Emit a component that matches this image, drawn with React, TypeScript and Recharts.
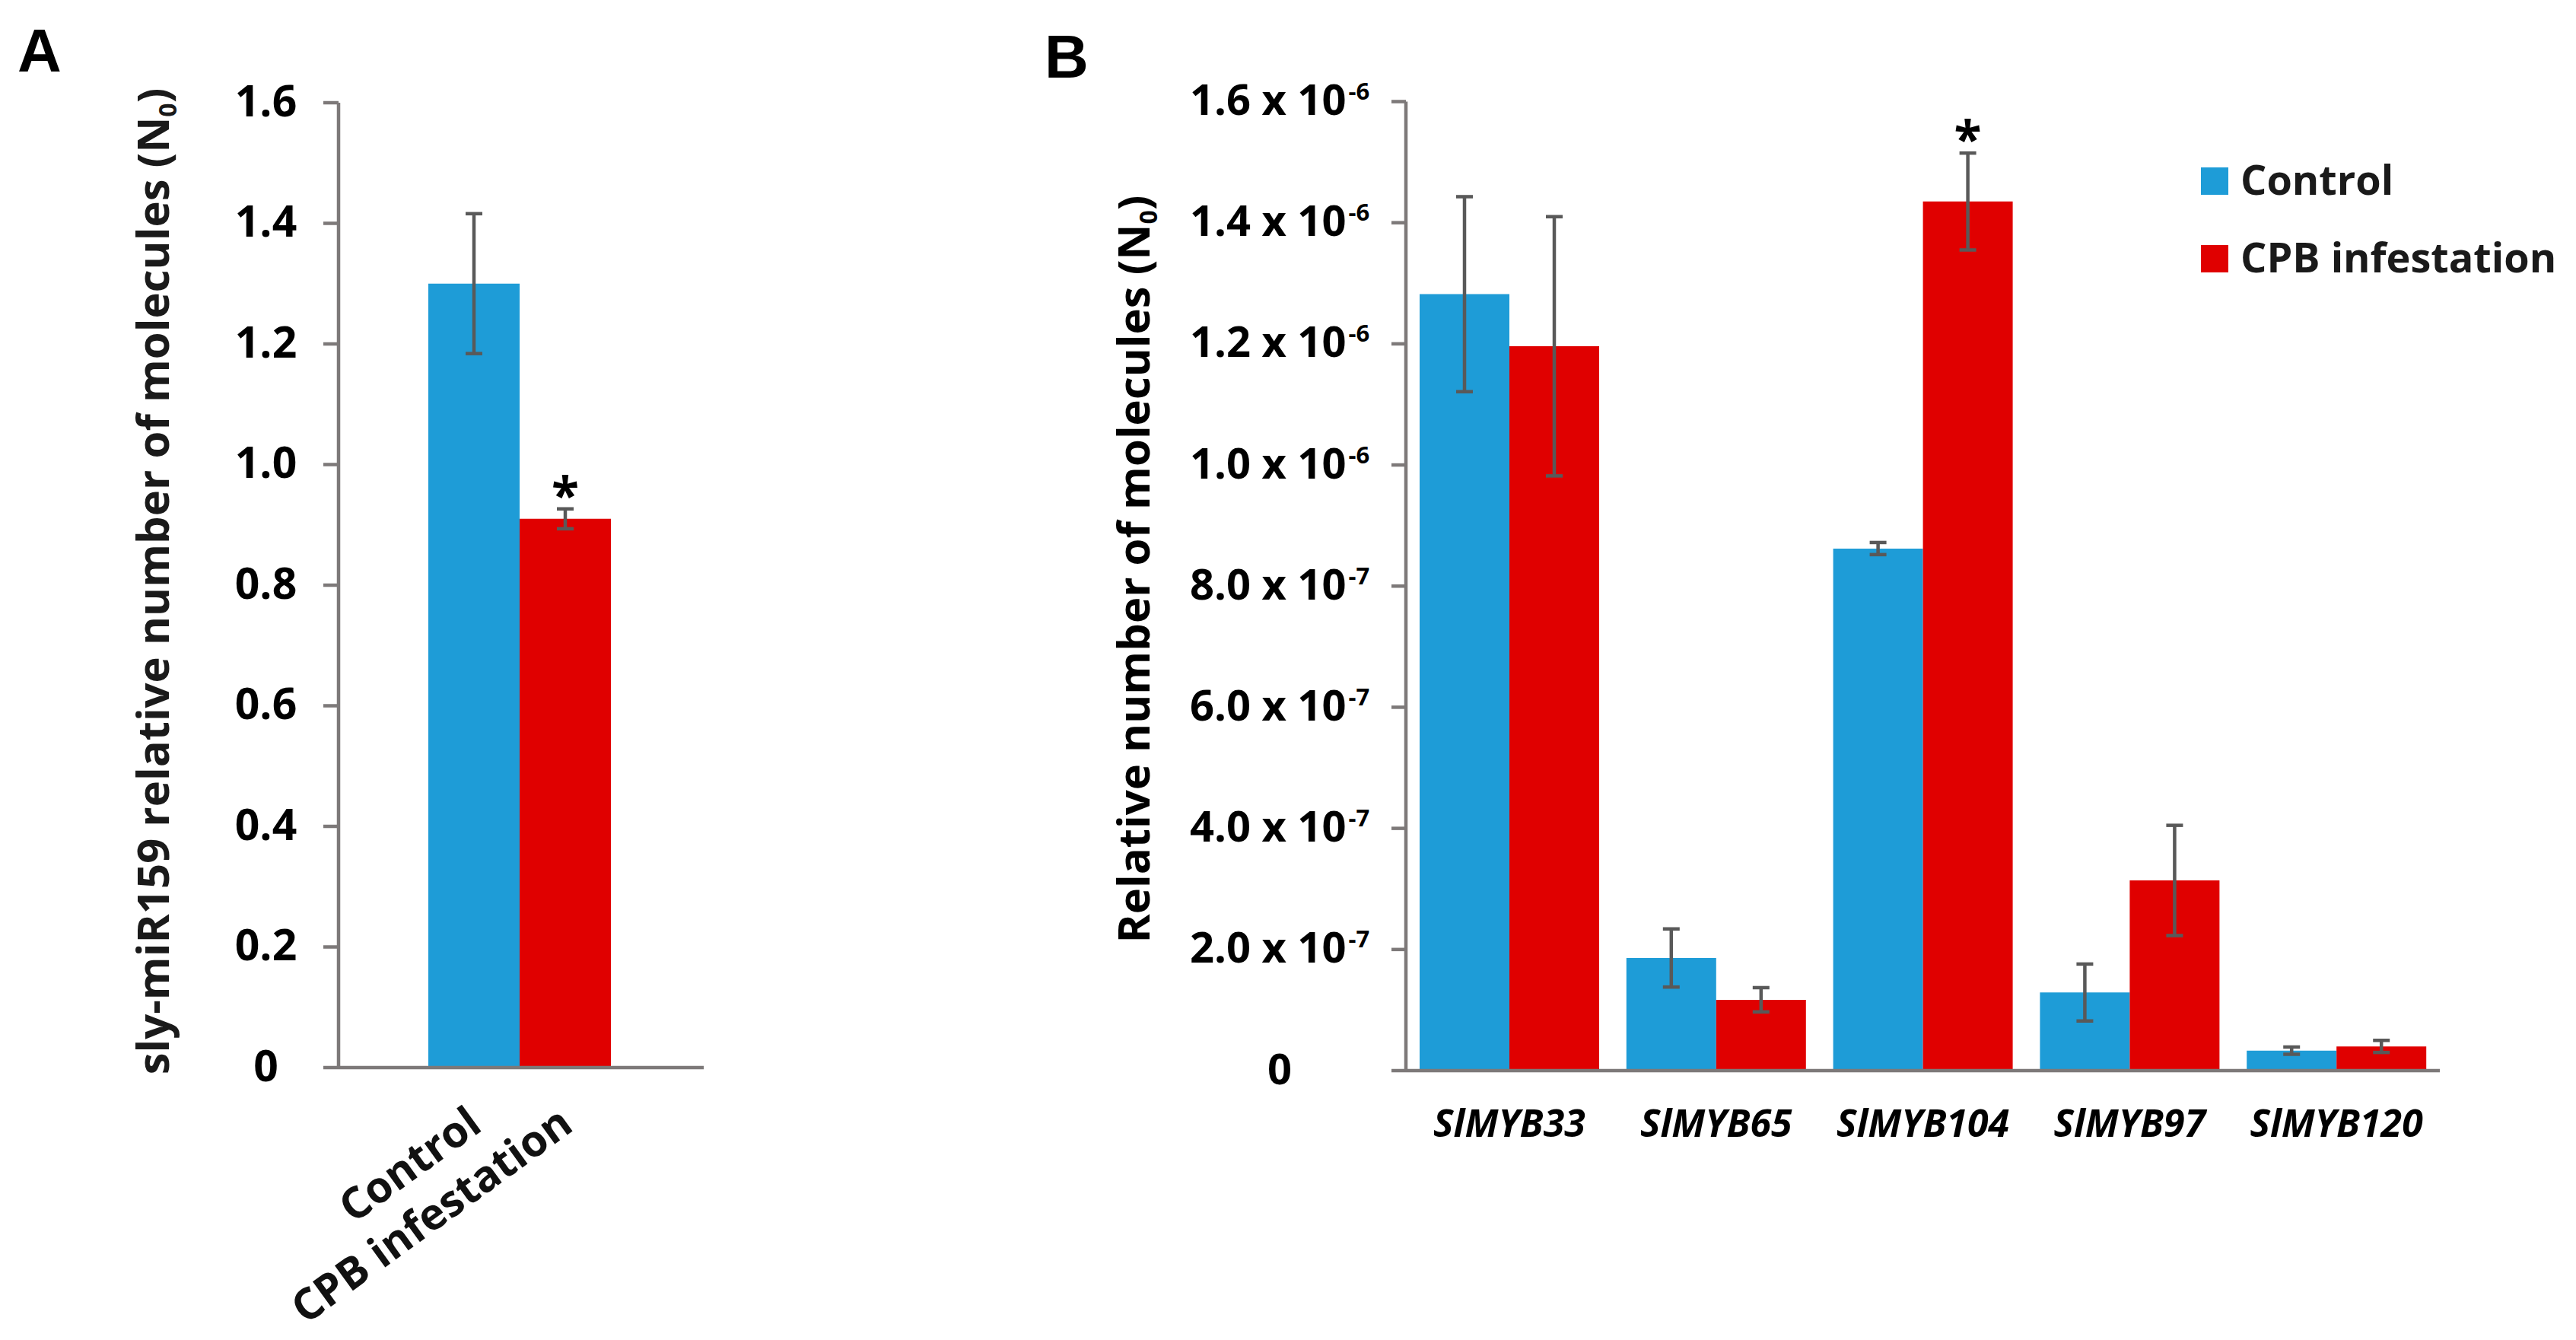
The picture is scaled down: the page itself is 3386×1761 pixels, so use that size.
import React from 'react';
import { BarChart, Bar, XAxis, YAxis, ErrorBar, Cell, LabelList, Legend } from 'recharts';

// ---------- Panel A data ----------
const catsA = ['Control', 'CPB infestation'];
const valuesA = [1.3, 0.91];
const errorsA = [0.116, 0.0165];
const starsA = [false, true];
const yTicksA = [0, 0.2, 0.4, 0.6, 0.8, 1.0, 1.2, 1.4, 1.6];
const yTickLabelsA = ['0', '0.2', '0.4', '0.6', '0.8', '1.0', '1.2', '1.4', '1.6'];

// ---------- Panel B data ----------
const genesB = ['SlMYB33', 'SlMYB65', 'SlMYB104', 'SlMYB97', 'SlMYB120'];
const controlB = [1.282e-6, 1.86e-7, 8.62e-7, 1.29e-7, 3.3e-8];
const controlErrB = [1.61e-7, 4.8e-8, 1.0e-8, 4.7e-8, 6e-9];
const cpbB = [1.196e-6, 1.17e-7, 1.435e-6, 3.14e-7, 4.0e-8];
const cpbErrB = [2.14e-7, 2.0e-8, 8.0e-8, 9.1e-8, 1.0e-8];
const starsControlB = [false, false, false, false, false];
const starsCpbB = [false, false, true, false, false];
const yTicksB = [0, 2e-7, 4e-7, 6e-7, 8e-7, 1e-6, 1.2e-6, 1.4e-6, 1.6e-6];
const yTickMantissaB = ['0', '2.0', '4.0', '6.0', '8.0', '1.0', '1.2', '1.4', '1.6'];
const yTickExponentB = ['', '-7', '-7', '-7', '-7', '-6', '-6', '-6', '-6'];
const seriesNamesB = ['Control', 'CPB infestation'];

const BLUE = '#1E9CD7';
const RED = '#E00000';
const colorsA = [BLUE, RED];
const AX = '#7D7979';
const ERR = '#595959';
const FONT = "'Open Sans', 'Noto Sans', sans-serif";

const dataA = catsA.map((c, i) => ({ name: c, value: valuesA[i], err: errorsA[i] }));
const dataB = genesB.map((g, i) => ({
  gene: g,
  control: controlB[i],
  controlErr: controlErrB[i],
  cpb: cpbB[i],
  cpbErr: cpbErrB[i],
}));

const makeStar = (stars: boolean[], errs: number[]) => (props: any) => {
  const vb = props.viewBox || props;
  const i = props.index;
  if (i == null || !stars[i]) return null;
  const val = Number(props.value);
  const errTop = vb.y - (errs[i] / val) * vb.height;
  return (
    <text x={vb.x + vb.width / 2} y={errTop + 6} textAnchor="middle" fontFamily={FONT} fontSize={66} fontWeight={700} fill="#000">
      *
    </text>
  );
};

const YTickA = (props: any) => {
  const { x, y, payload } = props;
  const idx = yTicksA.indexOf(payload.value);
  return (
    <text x={x - 75.5} y={y + 17.5} textAnchor="middle" fontFamily={FONT} fontSize={57} fontWeight={700} fill="#000">
      {yTickLabelsA[idx]}
    </text>
  );
};

const XTickA = (props: any) => {
  const { x, y, payload } = props;
  const ax = x + 13;
  return (
    <text x={ax} y={y} transform={`rotate(-36, ${ax}, ${y})`} textAnchor="end" fontFamily={FONT} fontSize={57} fontWeight={700} fill="#111">
      {payload.value}
    </text>
  );
};

const YTickB = (props: any) => {
  const { x, y, payload } = props;
  let idx = yTicksB.findIndex((t) => Math.abs(t - payload.value) < 1e-12);
  if (idx < 0) idx = 0;
  const exp = yTickExponentB[idx];
  return (
    <text x={x - 147} y={y + 17.5} textAnchor="middle" fontFamily={FONT} fontSize={56} fontWeight={700} fill="#000">
      {exp ? `${yTickMantissaB[idx]} x 10` : yTickMantissaB[idx]}
      {exp ? (
        <tspan dx={3} dy={-20} fontSize={31}>
          {exp}
        </tspan>
      ) : null}
    </text>
  );
};

const XTickB = (props: any) => {
  const { x, y, payload } = props;
  return (
    <text x={x} y={y} textAnchor="middle" fontFamily={FONT} fontSize={50} fontStyle="italic" fontWeight={700} fill="#000">
      {payload.value}
    </text>
  );
};

const LegendB = () => (
  <svg width={480} height={180} style={{ display: 'block', overflow: 'visible' }}>
    {seriesNamesB.map((n, i) => (
      <g key={n}>
        <rect x={0} y={20 + i * 102} width={36} height={36} fill={i === 0 ? BLUE : RED} />
        <text x={52} y={56 + i * 102} fontFamily={FONT} fontSize={54} fontWeight={700} fill="#1a1a1a">
          {n}
        </text>
      </g>
    ))}
  </svg>
);

export default function App() {
  const B_LEFT = 1400;
  return (
    <div style={{ position: 'absolute', left: 0, top: 0, width: 3386, height: 1761, background: '#fff', overflow: 'hidden' }}>
      <div style={{ position: 'absolute', left: 0, top: 0 }}>
        <BarChart
          width={1000}
          height={1761}
          data={dataA}
          margin={{ top: 135, right: 75, bottom: 158, left: 345 }}
          barCategoryGap={0}
          barGap={0}
        >
          <XAxis
            dataKey="name"
            type="category"
            interval={0}
            height={200}
            padding={{ left: 118, right: 122 }}
            tickLine={false}
            tickSize={0}
            tickMargin={81}
            axisLine={{ stroke: AX, strokeWidth: 4.5 }}
            tick={<XTickA />}
          />
          <YAxis
            type="number"
            domain={[0, 1.6]}
            ticks={yTicksA}
            interval={0}
            width={100}
            tickSize={20}
            tickMargin={0}
            tickLine={{ stroke: AX, strokeWidth: 4.5 }}
            axisLine={{ stroke: AX, strokeWidth: 4.5 }}
            tick={<YTickA />}
          />
          <Bar dataKey="value" isAnimationActive={false}>
            {dataA.map((d, i) => (
              <Cell key={d.name} fill={colorsA[i]} />
            ))}
            <ErrorBar dataKey="err" width={11} strokeWidth={4.5} stroke={ERR} direction="y" />
            <LabelList dataKey="value" content={makeStar(starsA, errorsA)} />
          </Bar>
        </BarChart>
      </div>

      <div style={{ position: 'absolute', left: B_LEFT, top: 0 }}>
        <BarChart
          width={1986}
          height={1761}
          data={dataB}
          margin={{ top: 133.5, right: 179, bottom: 254, left: 298 }}
          barCategoryGap={18}
          barGap={0}
        >
          <XAxis
            dataKey="gene"
            type="category"
            interval={0}
            height={100}
            tickLine={false}
            tickSize={0}
            tickMargin={87}
            axisLine={{ stroke: AX, strokeWidth: 4.5 }}
            tick={<XTickB />}
          />
          <YAxis
            type="number"
            domain={[0, 1.6e-6]}
            ticks={yTicksB}
            interval={0}
            width={150}
            tickSize={19}
            tickMargin={0}
            tickLine={{ stroke: AX, strokeWidth: 4.5 }}
            axisLine={{ stroke: AX, strokeWidth: 4.5 }}
            tick={<YTickB />}
          />
          <Legend
            layout="vertical"
            align="center"
            verticalAlign="middle"
            wrapperStyle={{ left: 2893 - B_LEFT, top: 200, width: 480, height: 180 }}
            content={<LegendB />}
          />
          <Bar dataKey="control" name={seriesNamesB[0]} fill={BLUE} isAnimationActive={false}>
            <ErrorBar dataKey="controlErr" width={11} strokeWidth={4.5} stroke={ERR} direction="y" />
            <LabelList dataKey="control" content={makeStar(starsControlB, controlErrB)} />
          </Bar>
          <Bar dataKey="cpb" name={seriesNamesB[1]} fill={RED} isAnimationActive={false}>
            <ErrorBar dataKey="cpbErr" width={11} strokeWidth={4.5} stroke={ERR} direction="y" />
            <LabelList dataKey="cpb" content={makeStar(starsCpbB, cpbErrB)} />
          </Bar>
        </BarChart>
      </div>

      <svg width={3386} height={1761} style={{ position: 'absolute', left: 0, top: 0, pointerEvents: 'none' }}>
        <text x={23} y={94} fontFamily="'Liberation Sans', Arial, sans-serif" fontSize={80} fontWeight={700} fill="#000">
          A
        </text>
        <text x={1373} y={102} fontFamily="'Liberation Sans', Arial, sans-serif" fontSize={80} fontWeight={700} fill="#000">
          B
        </text>
        <text transform="translate(222,764) rotate(-90)" textAnchor="middle" fontFamily={FONT} fontSize={58} fontWeight={700} fill="#1a1a1a">
          sly-miR159 relative number of molecules (N
          <tspan dy={10} fontSize={32}>0</tspan>
          <tspan dy={-10}>)</tspan>
        </text>
        <text transform="translate(1511,748) rotate(-90)" textAnchor="middle" fontFamily={FONT} fontSize={58} fontWeight={700} fill="#000">
          Relative number of molecules (N
          <tspan dy={10} fontSize={32}>0</tspan>
          <tspan dy={-10}>)</tspan>
        </text>
      </svg>
    </div>
  );
}
